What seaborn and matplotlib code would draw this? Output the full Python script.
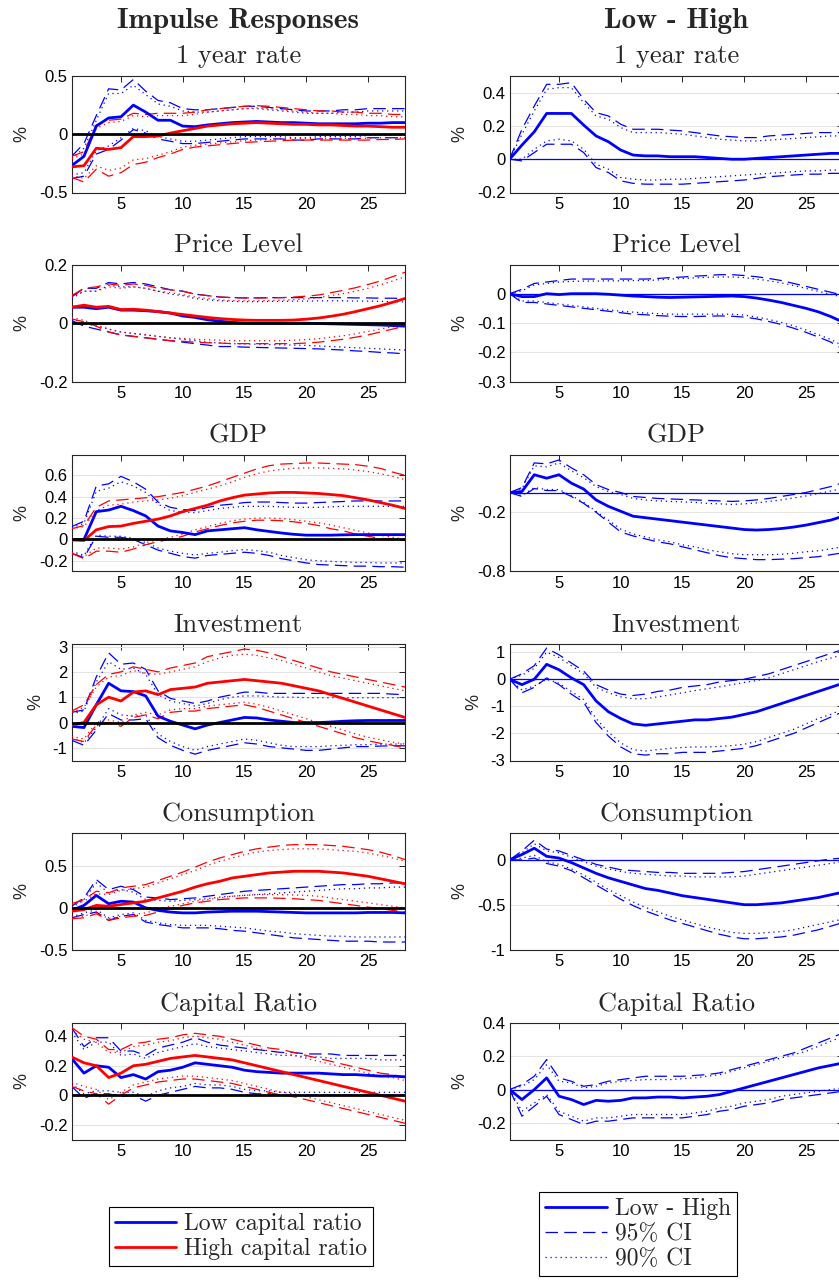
import numpy as np
import pandas as pd
import matplotlib
matplotlib.use("Agg")
import matplotlib.pyplot as plt
import seaborn as sns

# ---------------- data: horizons 1..28 ----------------
horizon = list(range(1, 29))

# 1 year rate
rate_low = [-0.27, -0.19, 0.07, 0.14, 0.15, 0.25, 0.19, 0.12, 0.12, 0.07, 0.065, 0.08, 0.09, 0.10, 0.105, 0.11, 0.105, 0.10, 0.10, 0.095, 0.09, 0.09, 0.09, 0.09, 0.095, 0.095, 0.10, 0.10]
rate_low_u95 = [-0.19, -0.08, 0.16, 0.39, 0.38, 0.47, 0.37, 0.29, 0.27, 0.22, 0.21, 0.21, 0.22, 0.23, 0.24, 0.24, 0.23, 0.22, 0.21, 0.20, 0.20, 0.20, 0.21, 0.21, 0.22, 0.22, 0.22, 0.22]
rate_low_u90 = [-0.21, -0.12, 0.12, 0.35, 0.35, 0.42, 0.34, 0.26, 0.24, 0.20, 0.19, 0.19, 0.20, 0.21, 0.22, 0.22, 0.21, 0.20, 0.19, 0.18, 0.18, 0.18, 0.19, 0.19, 0.20, 0.20, 0.20, 0.20]
rate_low_l95 = [-0.38, -0.36, -0.17, -0.13, -0.05, 0.04, 0.01, -0.04, -0.06, -0.08, -0.08, -0.07, -0.06, -0.05, -0.04, -0.04, -0.04, -0.04, -0.05, -0.05, -0.04, -0.04, -0.04, -0.04, -0.03, -0.03, -0.03, -0.03]
rate_low_l90 = [-0.35, -0.33, -0.14, -0.10, -0.03, 0.05, 0.03, -0.02, -0.04, -0.06, -0.06, -0.05, -0.04, -0.03, -0.02, -0.02, -0.02, -0.02, -0.03, -0.03, -0.02, -0.02, -0.02, -0.02, -0.01, -0.01, -0.01, -0.01]
rate_high = [-0.28, -0.27, -0.12, -0.13, -0.115, -0.02, -0.02, -0.015, 0.01, 0.03, 0.05, 0.07, 0.08, 0.09, 0.095, 0.10, 0.095, 0.09, 0.085, 0.085, 0.08, 0.08, 0.075, 0.07, 0.07, 0.065, 0.06, 0.06]
rate_high_u95 = [-0.19, -0.15, 0.08, 0.12, 0.13, 0.18, 0.17, 0.18, 0.18, 0.18, 0.19, 0.21, 0.22, 0.23, 0.24, 0.245, 0.24, 0.23, 0.22, 0.21, 0.20, 0.20, 0.19, 0.19, 0.18, 0.18, 0.17, 0.17]
rate_high_u90 = [-0.21, -0.17, 0.05, 0.10, 0.11, 0.16, 0.15, 0.16, 0.16, 0.16, 0.17, 0.19, 0.20, 0.21, 0.22, 0.225, 0.22, 0.21, 0.20, 0.19, 0.18, 0.18, 0.17, 0.17, 0.16, 0.16, 0.15, 0.15]
rate_high_l95 = [-0.37, -0.41, -0.30, -0.36, -0.33, -0.26, -0.24, -0.20, -0.17, -0.13, -0.11, -0.10, -0.09, -0.08, -0.07, -0.065, -0.06, -0.055, -0.05, -0.05, -0.05, -0.05, -0.05, -0.05, -0.05, -0.045, -0.045, -0.04]
rate_high_l90 = [-0.35, -0.38, -0.27, -0.31, -0.29, -0.22, -0.21, -0.18, -0.15, -0.11, -0.095, -0.085, -0.075, -0.065, -0.055, -0.05, -0.045, -0.04, -0.035, -0.035, -0.035, -0.035, -0.035, -0.035, -0.035, -0.03, -0.03, -0.03]
rate_diff = [0, 0.085, 0.165, 0.275, 0.275, 0.275, 0.205, 0.14, 0.105, 0.055, 0.025, 0.02, 0.02, 0.015, 0.015, 0.015, 0.01, 0.005, 0.0, 0.0, 0.005, 0.01, 0.015, 0.02, 0.025, 0.03, 0.035, 0.035]
rate_diff_u95 = [0, 0.18, 0.32, 0.45, 0.45, 0.46, 0.36, 0.28, 0.26, 0.21, 0.18, 0.18, 0.18, 0.175, 0.17, 0.16, 0.15, 0.14, 0.135, 0.13, 0.13, 0.14, 0.145, 0.15, 0.155, 0.16, 0.16, 0.16]
rate_diff_u90 = [0, 0.15, 0.29, 0.42, 0.43, 0.43, 0.34, 0.26, 0.24, 0.19, 0.16, 0.16, 0.16, 0.155, 0.15, 0.14, 0.13, 0.12, 0.115, 0.11, 0.11, 0.115, 0.12, 0.125, 0.13, 0.135, 0.14, 0.14]
rate_diff_l95 = [0, -0.01, 0.04, 0.09, 0.09, 0.09, 0.04, -0.05, -0.08, -0.13, -0.145, -0.15, -0.15, -0.15, -0.15, -0.145, -0.14, -0.135, -0.13, -0.125, -0.115, -0.105, -0.10, -0.095, -0.09, -0.09, -0.085, -0.085]
rate_diff_l90 = [0, 0.0, 0.06, 0.11, 0.12, 0.11, 0.06, -0.03, -0.06, -0.11, -0.12, -0.125, -0.125, -0.12, -0.12, -0.115, -0.11, -0.105, -0.10, -0.095, -0.09, -0.085, -0.08, -0.075, -0.07, -0.07, -0.065, -0.065]

# Price level
price_low = [0.055, 0.055, 0.05, 0.055, 0.045, 0.045, 0.043, 0.04, 0.035, 0.025, 0.02, 0.012, 0.007, 0.003, 0.001, 0.0, 0.0, 0.0, 0.0, 0.0, -0.001, -0.002, -0.003, -0.004, -0.005, -0.006, -0.008, -0.01]
price_low_u95 = [0.09, 0.12, 0.12, 0.14, 0.135, 0.14, 0.135, 0.125, 0.115, 0.11, 0.10, 0.095, 0.09, 0.088, 0.087, 0.087, 0.088, 0.088, 0.088, 0.088, 0.088, 0.088, 0.088, 0.087, 0.087, 0.086, 0.086, 0.085]
price_low_u90 = [0.085, 0.11, 0.11, 0.13, 0.125, 0.125, 0.12, 0.11, 0.10, 0.095, 0.085, 0.08, 0.077, 0.075, 0.074, 0.074, 0.075, 0.075, 0.076, 0.076, 0.077, 0.077, 0.077, 0.076, 0.076, 0.075, 0.074, 0.073]
price_low_l95 = [0.01, -0.01, -0.02, -0.03, -0.04, -0.045, -0.05, -0.055, -0.06, -0.065, -0.07, -0.075, -0.08, -0.08, -0.082, -0.083, -0.084, -0.085, -0.086, -0.087, -0.088, -0.09, -0.092, -0.095, -0.097, -0.10, -0.102, -0.105]
price_low_l90 = [0.015, 0.0, -0.01, -0.02, -0.03, -0.035, -0.04, -0.045, -0.05, -0.055, -0.06, -0.065, -0.068, -0.07, -0.071, -0.072, -0.073, -0.074, -0.075, -0.076, -0.078, -0.08, -0.082, -0.084, -0.086, -0.088, -0.09, -0.092]
price_high = [0.055, 0.062, 0.055, 0.058, 0.047, 0.048, 0.045, 0.04, 0.035, 0.03, 0.025, 0.02, 0.016, 0.013, 0.011, 0.01, 0.01, 0.01, 0.011, 0.014, 0.018, 0.024, 0.031, 0.04, 0.05, 0.06, 0.072, 0.085]
price_high_u95 = [0.095, 0.12, 0.125, 0.135, 0.13, 0.135, 0.13, 0.12, 0.115, 0.11, 0.10, 0.095, 0.09, 0.088, 0.087, 0.087, 0.087, 0.088, 0.09, 0.093, 0.097, 0.105, 0.113, 0.122, 0.133, 0.145, 0.16, 0.175]
price_high_u90 = [0.09, 0.11, 0.11, 0.125, 0.12, 0.125, 0.12, 0.11, 0.105, 0.098, 0.09, 0.085, 0.08, 0.078, 0.077, 0.077, 0.078, 0.079, 0.081, 0.084, 0.088, 0.095, 0.102, 0.11, 0.12, 0.132, 0.145, 0.16]
price_high_l95 = [0.015, 0.005, -0.01, -0.03, -0.04, -0.045, -0.05, -0.055, -0.06, -0.062, -0.065, -0.067, -0.068, -0.07, -0.07, -0.07, -0.07, -0.07, -0.07, -0.068, -0.065, -0.06, -0.055, -0.048, -0.04, -0.03, -0.02, -0.01]
price_high_l90 = [0.02, 0.01, -0.005, -0.02, -0.03, -0.035, -0.04, -0.045, -0.05, -0.052, -0.055, -0.057, -0.058, -0.06, -0.06, -0.06, -0.06, -0.06, -0.058, -0.056, -0.053, -0.048, -0.043, -0.036, -0.028, -0.02, -0.012, -0.005]
price_diff = [0, -0.01, -0.01, 0.0, -0.003, 0.0, 0.0, 0.0, -0.002, -0.005, -0.008, -0.01, -0.012, -0.013, -0.012, -0.011, -0.01, -0.009, -0.008, -0.01, -0.015, -0.022, -0.03, -0.04, -0.05, -0.062, -0.078, -0.097]
price_diff_u95 = [0, 0.015, 0.035, 0.04, 0.045, 0.05, 0.05, 0.05, 0.05, 0.05, 0.05, 0.05, 0.052, 0.055, 0.057, 0.06, 0.062, 0.065, 0.065, 0.062, 0.058, 0.052, 0.045, 0.035, 0.025, 0.015, 0.005, -0.005]
price_diff_u90 = [0, 0.01, 0.03, 0.035, 0.04, 0.042, 0.043, 0.043, 0.044, 0.044, 0.045, 0.045, 0.047, 0.05, 0.052, 0.054, 0.056, 0.057, 0.057, 0.055, 0.05, 0.044, 0.037, 0.028, 0.018, 0.008, -0.002, -0.012]
price_diff_l95 = [0, -0.03, -0.03, -0.035, -0.04, -0.045, -0.05, -0.055, -0.06, -0.065, -0.07, -0.072, -0.075, -0.077, -0.078, -0.078, -0.077, -0.076, -0.077, -0.08, -0.086, -0.095, -0.105, -0.118, -0.132, -0.148, -0.165, -0.19]
price_diff_l90 = [0, -0.025, -0.025, -0.03, -0.035, -0.04, -0.045, -0.05, -0.055, -0.06, -0.063, -0.066, -0.068, -0.07, -0.07, -0.07, -0.07, -0.07, -0.07, -0.073, -0.08, -0.088, -0.098, -0.11, -0.124, -0.14, -0.156, -0.178]

# GDP
gdp_low = [0, 0, 0.26, 0.275, 0.31, 0.27, 0.22, 0.125, 0.08, 0.065, 0.045, 0.08, 0.09, 0.10, 0.11, 0.09, 0.075, 0.06, 0.048, 0.04, 0.04, 0.04, 0.043, 0.045, 0.045, 0.045, 0.045, 0.045]
gdp_low_u95 = [0.12, 0.17, 0.5, 0.52, 0.59, 0.54, 0.47, 0.35, 0.3, 0.28, 0.27, 0.3, 0.32, 0.33, 0.345, 0.35, 0.35, 0.345, 0.34, 0.34, 0.345, 0.35, 0.355, 0.36, 0.36, 0.36, 0.36, 0.36]
gdp_low_u90 = [0.11, 0.15, 0.45, 0.48, 0.54, 0.5, 0.44, 0.33, 0.27, 0.255, 0.25, 0.27, 0.29, 0.3, 0.31, 0.31, 0.31, 0.305, 0.3, 0.3, 0.3, 0.305, 0.31, 0.31, 0.31, 0.31, 0.31, 0.31]
gdp_low_l95 = [-0.13, -0.17, 0.03, 0.02, 0.02, 0.0, -0.05, -0.1, -0.13, -0.16, -0.175, -0.15, -0.14, -0.13, -0.12, -0.13, -0.15, -0.18, -0.2, -0.22, -0.235, -0.24, -0.245, -0.25, -0.25, -0.255, -0.255, -0.26]
gdp_low_l90 = [-0.11, -0.15, 0.04, 0.03, 0.03, 0.01, -0.03, -0.08, -0.11, -0.13, -0.145, -0.13, -0.12, -0.105, -0.095, -0.105, -0.12, -0.15, -0.17, -0.19, -0.2, -0.205, -0.21, -0.215, -0.215, -0.22, -0.22, -0.22]
gdp_high = [-0.005, -0.01, 0.09, 0.12, 0.125, 0.15, 0.17, 0.19, 0.22, 0.26, 0.29, 0.32, 0.36, 0.39, 0.415, 0.425, 0.435, 0.44, 0.44, 0.435, 0.43, 0.42, 0.41, 0.39, 0.37, 0.345, 0.32, 0.29]
gdp_high_u95 = [0.1, 0.13, 0.3, 0.36, 0.37, 0.38, 0.39, 0.4, 0.42, 0.44, 0.47, 0.5, 0.54, 0.58, 0.62, 0.66, 0.69, 0.705, 0.71, 0.715, 0.715, 0.71, 0.705, 0.7, 0.685, 0.665, 0.63, 0.6]
gdp_high_u90 = [0.1, 0.12, 0.27, 0.32, 0.33, 0.35, 0.36, 0.37, 0.385, 0.41, 0.44, 0.47, 0.5, 0.54, 0.58, 0.615, 0.64, 0.655, 0.665, 0.67, 0.67, 0.665, 0.66, 0.65, 0.635, 0.615, 0.59, 0.56]
gdp_high_l95 = [-0.13, -0.18, -0.11, -0.11, -0.12, -0.09, -0.05, -0.02, 0.0, 0.03, 0.07, 0.1, 0.13, 0.155, 0.17, 0.18, 0.18, 0.175, 0.165, 0.15, 0.13, 0.1, 0.08, 0.05, 0.03, 0.01, 0.0, -0.01]
gdp_high_l90 = [-0.12, -0.16, -0.08, -0.08, -0.09, -0.07, -0.03, 0.0, 0.02, 0.05, 0.09, 0.12, 0.15, 0.175, 0.19, 0.2, 0.2, 0.195, 0.185, 0.17, 0.155, 0.135, 0.11, 0.085, 0.06, 0.04, 0.02, 0.0]
gdp_diff = [0, 0.01, 0.18, 0.145, 0.18, 0.095, 0.035, -0.075, -0.14, -0.19, -0.24, -0.255, -0.27, -0.285, -0.30, -0.315, -0.33, -0.345, -0.36, -0.375, -0.38, -0.375, -0.365, -0.35, -0.33, -0.305, -0.28, -0.24]
gdp_diff_u95 = [0, 0.05, 0.3, 0.29, 0.33, 0.25, 0.18, 0.08, 0.03, 0.0, -0.04, -0.05, -0.06, -0.065, -0.07, -0.075, -0.08, -0.085, -0.09, -0.085, -0.075, -0.06, -0.04, -0.02, 0.0, 0.03, 0.06, 0.1]
gdp_diff_u90 = [0, 0.04, 0.27, 0.26, 0.3, 0.22, 0.15, 0.06, 0.01, -0.02, -0.06, -0.075, -0.085, -0.09, -0.095, -0.1, -0.11, -0.115, -0.12, -0.115, -0.105, -0.09, -0.075, -0.055, -0.035, -0.01, 0.015, 0.04]
gdp_diff_l95 = [0, -0.04, 0.04, 0.02, 0.02, -0.04, -0.11, -0.2, -0.3, -0.4, -0.44, -0.47, -0.5, -0.52, -0.55, -0.58, -0.61, -0.64, -0.66, -0.67, -0.68, -0.68, -0.675, -0.67, -0.66, -0.65, -0.63, -0.61]
gdp_diff_l90 = [0, -0.03, 0.05, 0.03, 0.03, -0.03, -0.1, -0.19, -0.28, -0.37, -0.42, -0.45, -0.48, -0.5, -0.53, -0.55, -0.58, -0.6, -0.62, -0.63, -0.63, -0.63, -0.625, -0.615, -0.6, -0.59, -0.57, -0.55]

# Investment
inv_low = [-0.15, -0.2, 0.7, 1.55, 1.25, 1.22, 1.05, 0.25, 0.05, -0.1, -0.25, -0.1, 0.0, 0.1, 0.2, 0.18, 0.1, 0.05, 0.0, 0.0, 0.0, 0.02, 0.05, 0.07, 0.08, 0.08, 0.08, 0.08]
inv_low_u95 = [0.4, 0.5, 1.8, 2.75, 2.3, 2.35, 2.1, 1.25, 0.95, 0.85, 0.75, 0.85, 1.0, 1.1, 1.2, 1.2, 1.15, 1.15, 1.15, 1.15, 1.15, 1.15, 1.15, 1.15, 1.15, 1.15, 1.12, 1.1]
inv_low_u90 = [0.35, 0.45, 1.6, 2.4, 2.1, 2.15, 1.9, 1.1, 0.85, 0.75, 0.65, 0.75, 0.9, 1.0, 1.05, 1.05, 1.03, 1.0, 1.0, 0.98, 0.98, 0.98, 0.98, 0.98, 0.98, 0.98, 0.98, 0.98]
inv_low_l95 = [-0.7, -0.9, -0.3, 0.35, 0.1, 0.1, 0.15, -0.6, -0.9, -1.1, -1.25, -1.1, -1.0, -0.9, -0.8, -0.85, -0.95, -1.0, -1.05, -1.1, -1.1, -1.05, -1.0, -0.95, -0.95, -0.93, -0.92, -0.92]
inv_low_l90 = [-0.6, -0.8, -0.2, 0.55, 0.3, 0.25, 0.3, -0.45, -0.75, -0.95, -1.1, -0.95, -0.85, -0.75, -0.65, -0.7, -0.8, -0.9, -0.95, -0.95, -0.95, -0.92, -0.9, -0.88, -0.87, -0.86, -0.85, -0.85]
inv_high = [-0.1, 0.0, 0.7, 1.0, 0.85, 1.2, 1.25, 1.1, 1.3, 1.35, 1.4, 1.55, 1.6, 1.65, 1.7, 1.65, 1.6, 1.55, 1.45, 1.35, 1.25, 1.1, 0.95, 0.8, 0.65, 0.5, 0.35, 0.2]
inv_high_u95 = [0.45, 0.7, 1.5, 1.9, 2.0, 2.2, 2.1, 2.0, 2.15, 2.25, 2.35, 2.6, 2.7, 2.8, 2.9, 2.85, 2.75, 2.6, 2.45, 2.3, 2.15, 2.0, 1.9, 1.8, 1.7, 1.6, 1.5, 1.4]
inv_high_u90 = [0.4, 0.6, 1.4, 1.8, 1.85, 2.05, 1.95, 1.9, 2.0, 2.1, 2.2, 2.4, 2.55, 2.65, 2.7, 2.65, 2.55, 2.45, 2.3, 2.15, 2.0, 1.85, 1.75, 1.65, 1.55, 1.45, 1.35, 1.25]
inv_high_l95 = [-0.65, -0.75, -0.1, 0.0, -0.15, 0.2, 0.3, 0.15, 0.4, 0.45, 0.45, 0.55, 0.6, 0.65, 0.7, 0.6, 0.45, 0.3, 0.15, 0.0, -0.15, -0.3, -0.45, -0.6, -0.72, -0.82, -0.9, -1.0]
inv_high_l90 = [-0.55, -0.65, 0.0, 0.1, 0.0, 0.3, 0.4, 0.3, 0.5, 0.55, 0.55, 0.65, 0.7, 0.75, 0.8, 0.72, 0.6, 0.45, 0.3, 0.15, 0.0, -0.15, -0.3, -0.45, -0.58, -0.68, -0.78, -0.85]
inv_diff = [0, -0.2, 0.0, 0.55, 0.35, 0.05, -0.2, -0.8, -1.2, -1.45, -1.65, -1.7, -1.65, -1.6, -1.55, -1.5, -1.5, -1.45, -1.4, -1.3, -1.2, -1.05, -0.9, -0.75, -0.6, -0.45, -0.3, -0.15]
inv_diff_u95 = [0, 0.2, 0.5, 1.15, 0.9, 0.6, 0.3, -0.2, -0.4, -0.55, -0.6, -0.55, -0.45, -0.4, -0.3, -0.25, -0.2, -0.1, -0.05, 0.0, 0.1, 0.2, 0.35, 0.5, 0.65, 0.8, 0.95, 1.1]
inv_diff_u90 = [0, 0.15, 0.4, 1.0, 0.8, 0.5, 0.2, -0.3, -0.5, -0.65, -0.72, -0.72, -0.65, -0.58, -0.5, -0.42, -0.35, -0.28, -0.2, -0.12, -0.05, 0.05, 0.2, 0.35, 0.5, 0.65, 0.78, 0.9]
inv_diff_l95 = [0, -0.5, -0.3, 0.05, -0.2, -0.55, -0.85, -1.6, -2.1, -2.5, -2.75, -2.8, -2.75, -2.75, -2.7, -2.7, -2.7, -2.65, -2.6, -2.55, -2.45, -2.3, -2.15, -2.0, -1.8, -1.6, -1.4, -1.2]
inv_diff_l90 = [0, -0.4, -0.25, 0.0, -0.15, -0.45, -0.75, -1.45, -1.95, -2.35, -2.6, -2.65, -2.6, -2.55, -2.52, -2.5, -2.5, -2.48, -2.45, -2.4, -2.3, -2.15, -2.0, -1.85, -1.65, -1.45, -1.3, -1.1]

# Consumption
cons_low = [-0.03, 0.03, 0.15, 0.05, 0.08, 0.07, 0.0, -0.03, -0.05, -0.06, -0.06, -0.05, -0.045, -0.04, -0.04, -0.04, -0.045, -0.05, -0.055, -0.06, -0.06, -0.06, -0.06, -0.06, -0.055, -0.055, -0.055, -0.06]
cons_low_u95 = [0.02, 0.12, 0.34, 0.22, 0.26, 0.22, 0.13, 0.12, 0.1, 0.11, 0.12, 0.14, 0.16, 0.18, 0.2, 0.21, 0.22, 0.23, 0.24, 0.25, 0.26, 0.27, 0.28, 0.28, 0.29, 0.29, 0.3, 0.3]
cons_low_u90 = [0.0, 0.1, 0.3, 0.18, 0.22, 0.19, 0.1, 0.09, 0.08, 0.09, 0.1, 0.11, 0.13, 0.14, 0.15, 0.16, 0.17, 0.18, 0.19, 0.2, 0.21, 0.22, 0.23, 0.23, 0.24, 0.24, 0.25, 0.25]
cons_low_l95 = [-0.12, -0.08, -0.05, -0.15, -0.1, -0.08, -0.17, -0.2, -0.22, -0.24, -0.24, -0.24, -0.25, -0.27, -0.28, -0.3, -0.32, -0.34, -0.36, -0.37, -0.38, -0.39, -0.4, -0.4, -0.4, -0.41, -0.41, -0.41]
cons_low_l90 = [-0.11, -0.06, -0.02, -0.12, -0.08, -0.06, -0.15, -0.18, -0.2, -0.21, -0.21, -0.21, -0.22, -0.23, -0.24, -0.26, -0.28, -0.29, -0.31, -0.32, -0.33, -0.34, -0.34, -0.35, -0.35, -0.35, -0.35, -0.35]
cons_high = [-0.04, -0.02, 0.03, 0.02, 0.04, 0.06, 0.08, 0.12, 0.16, 0.2, 0.25, 0.29, 0.32, 0.36, 0.38, 0.4, 0.42, 0.43, 0.44, 0.44, 0.44, 0.43, 0.42, 0.4, 0.38, 0.35, 0.32, 0.29]
cons_high_u95 = [0.05, 0.1, 0.2, 0.18, 0.24, 0.26, 0.28, 0.33, 0.38, 0.43, 0.49, 0.55, 0.6, 0.64, 0.68, 0.71, 0.73, 0.75, 0.76, 0.76, 0.76, 0.75, 0.74, 0.72, 0.7, 0.67, 0.63, 0.58]
cons_high_u90 = [0.04, 0.08, 0.17, 0.16, 0.21, 0.23, 0.25, 0.3, 0.35, 0.4, 0.45, 0.51, 0.56, 0.6, 0.64, 0.67, 0.69, 0.7, 0.71, 0.71, 0.71, 0.7, 0.69, 0.68, 0.66, 0.63, 0.6, 0.56]
cons_high_l95 = [-0.13, -0.12, -0.07, -0.15, -0.12, -0.1, -0.09, -0.05, -0.01, 0.03, 0.06, 0.08, 0.1, 0.11, 0.12, 0.12, 0.12, 0.115, 0.11, 0.1, 0.09, 0.07, 0.05, 0.03, 0.01, -0.01, -0.03, -0.05]
cons_high_l90 = [-0.11, -0.1, -0.05, -0.13, -0.1, -0.08, -0.06, -0.02, 0.02, 0.05, 0.08, 0.1, 0.12, 0.14, 0.15, 0.16, 0.16, 0.16, 0.155, 0.15, 0.14, 0.12, 0.1, 0.08, 0.06, 0.04, 0.02, 0.0]
cons_diff = [0, 0.06, 0.13, 0.04, 0.02, -0.03, -0.09, -0.15, -0.2, -0.24, -0.28, -0.32, -0.34, -0.37, -0.4, -0.42, -0.44, -0.46, -0.48, -0.5, -0.5, -0.49, -0.48, -0.46, -0.44, -0.42, -0.39, -0.36]
cons_diff_u95 = [0, 0.1, 0.22, 0.12, 0.1, 0.05, 0.0, -0.05, -0.08, -0.11, -0.12, -0.13, -0.14, -0.14, -0.15, -0.15, -0.15, -0.15, -0.14, -0.13, -0.11, -0.09, -0.07, -0.05, -0.03, -0.01, 0.01, 0.02]
cons_diff_u90 = [0, 0.08, 0.18, 0.1, 0.08, 0.03, -0.02, -0.07, -0.1, -0.13, -0.15, -0.16, -0.17, -0.18, -0.18, -0.19, -0.19, -0.19, -0.19, -0.18, -0.16, -0.14, -0.12, -0.1, -0.08, -0.06, -0.04, -0.02]
cons_diff_l95 = [0, 0.0, 0.02, -0.04, -0.07, -0.12, -0.2, -0.28, -0.36, -0.44, -0.51, -0.57, -0.62, -0.67, -0.71, -0.75, -0.79, -0.83, -0.86, -0.88, -0.88, -0.87, -0.86, -0.84, -0.81, -0.78, -0.74, -0.7]
cons_diff_l90 = [0, 0.02, 0.05, -0.02, -0.05, -0.1, -0.17, -0.25, -0.33, -0.4, -0.47, -0.53, -0.58, -0.63, -0.67, -0.71, -0.75, -0.78, -0.81, -0.82, -0.82, -0.81, -0.8, -0.78, -0.75, -0.72, -0.69, -0.66]

# Capital ratio
cap_low = [0.25, 0.15, 0.2, 0.19, 0.12, 0.14, 0.11, 0.16, 0.17, 0.19, 0.22, 0.21, 0.2, 0.19, 0.17, 0.16, 0.155, 0.15, 0.15, 0.15, 0.15, 0.145, 0.14, 0.14, 0.135, 0.13, 0.13, 0.125]
cap_low_u95 = [0.46, 0.33, 0.39, 0.39, 0.3, 0.3, 0.27, 0.32, 0.34, 0.36, 0.39, 0.36, 0.34, 0.33, 0.32, 0.31, 0.3, 0.29, 0.29, 0.28, 0.28, 0.28, 0.27, 0.27, 0.27, 0.27, 0.27, 0.27]
cap_low_u90 = [0.43, 0.31, 0.36, 0.36, 0.27, 0.28, 0.25, 0.29, 0.31, 0.33, 0.35, 0.33, 0.32, 0.31, 0.3, 0.29, 0.28, 0.27, 0.27, 0.26, 0.26, 0.25, 0.25, 0.25, 0.25, 0.24, 0.24, 0.24]
cap_low_l95 = [0.06, -0.02, 0.01, 0.01, -0.01, 0.0, -0.04, 0.0, 0.02, 0.04, 0.06, 0.05, 0.05, 0.04, 0.02, 0.01, 0.01, 0.0, 0.0, 0.0, 0.0, 0.0, 0.0, 0.0, 0.0, 0.0, 0.0, 0.0]
cap_low_l90 = [0.08, 0.01, 0.03, 0.03, 0.02, 0.02, -0.01, 0.03, 0.05, 0.06, 0.08, 0.07, 0.07, 0.06, 0.04, 0.03, 0.03, 0.02, 0.02, 0.02, 0.02, 0.02, 0.02, 0.02, 0.02, 0.02, 0.02, 0.02]
cap_high = [0.26, 0.22, 0.2, 0.12, 0.15, 0.2, 0.21, 0.23, 0.25, 0.26, 0.27, 0.26, 0.25, 0.24, 0.22, 0.2, 0.18, 0.16, 0.14, 0.12, 0.1, 0.08, 0.06, 0.04, 0.02, 0.0, -0.02, -0.04]
cap_high_u95 = [0.46, 0.4, 0.38, 0.31, 0.31, 0.35, 0.36, 0.38, 0.39, 0.41, 0.42, 0.41, 0.4, 0.38, 0.36, 0.34, 0.32, 0.31, 0.29, 0.27, 0.25, 0.23, 0.21, 0.19, 0.17, 0.15, 0.14, 0.12]
cap_high_u90 = [0.44, 0.38, 0.36, 0.29, 0.29, 0.33, 0.34, 0.36, 0.37, 0.39, 0.4, 0.39, 0.38, 0.36, 0.34, 0.32, 0.3, 0.29, 0.27, 0.25, 0.23, 0.21, 0.19, 0.17, 0.15, 0.13, 0.12, 0.1]
cap_high_l95 = [0.06, 0.03, 0.01, -0.06, 0.0, 0.05, 0.07, 0.09, 0.1, 0.11, 0.11, 0.1, 0.09, 0.08, 0.06, 0.04, 0.02, 0.0, -0.01, -0.03, -0.05, -0.07, -0.09, -0.11, -0.13, -0.15, -0.17, -0.19]
cap_high_l90 = [0.09, 0.06, 0.04, -0.03, 0.02, 0.07, 0.09, 0.11, 0.12, 0.13, 0.13, 0.12, 0.11, 0.1, 0.08, 0.06, 0.04, 0.02, 0.01, -0.01, -0.03, -0.05, -0.07, -0.09, -0.11, -0.13, -0.15, -0.17]
cap_diff = [0, -0.06, 0.0, 0.07, -0.04, -0.06, -0.09, -0.065, -0.07, -0.065, -0.05, -0.05, -0.045, -0.045, -0.05, -0.045, -0.04, -0.03, -0.01, 0.01, 0.03, 0.05, 0.07, 0.09, 0.11, 0.13, 0.145, 0.16]
cap_diff_u95 = [0, 0.03, 0.08, 0.18, 0.07, 0.05, 0.02, 0.03, 0.05, 0.06, 0.07, 0.08, 0.08, 0.08, 0.08, 0.085, 0.09, 0.1, 0.12, 0.14, 0.16, 0.18, 0.2, 0.22, 0.25, 0.28, 0.31, 0.34]
cap_diff_u90 = [0, 0.02, 0.06, 0.15, 0.05, 0.04, 0.01, 0.02, 0.04, 0.05, 0.055, 0.06, 0.06, 0.06, 0.065, 0.07, 0.08, 0.09, 0.11, 0.13, 0.15, 0.17, 0.19, 0.21, 0.23, 0.26, 0.29, 0.32]
cap_diff_l95 = [0, -0.16, -0.1, -0.04, -0.15, -0.18, -0.21, -0.19, -0.19, -0.18, -0.17, -0.17, -0.17, -0.17, -0.17, -0.16, -0.15, -0.13, -0.12, -0.1, -0.09, -0.08, -0.06, -0.05, -0.04, -0.03, -0.02, -0.01]
cap_diff_l90 = [0, -0.13, -0.08, -0.03, -0.13, -0.16, -0.19, -0.17, -0.17, -0.16, -0.15, -0.15, -0.15, -0.15, -0.15, -0.14, -0.13, -0.11, -0.1, -0.08, -0.07, -0.06, -0.04, -0.03, -0.02, -0.01, 0.0, 0.01]

titles = ["1 year rate", "Price Level", "GDP", "Investment", "Consumption", "Capital Ratio"]
group_labels = ["Low capital ratio", "High capital ratio"]
ci_labels = ["Low - High", "95% CI", "90% CI"]

left_ylim = [(-0.5, 0.5), (-0.2, 0.2), (-0.3, 0.79), (-1.5, 3.1), (-0.5, 0.9), (-0.3, 0.49)]
left_yticks = [[-0.5, 0, 0.5], [-0.2, 0, 0.2], [-0.2, 0, 0.2, 0.4, 0.6], [-1, 0, 1, 2, 3],
               [-0.5, 0, 0.5], [-0.2, 0, 0.2, 0.4]]
right_ylim = [(-0.2, 0.5), (-0.3, 0.098), (-0.8, 0.38), (-3, 1.3), (-1, 0.3), (-0.3, 0.4)]
right_yticks = [[-0.2, 0, 0.2, 0.4], [-0.3, -0.2, -0.1, 0], [-0.8, -0.2], [-3, -2, -1, 0, 1],
                [-1, -0.5, 0], [-0.2, 0, 0.2, 0.4]]

left_sets = [
    (rate_low, rate_low_u95, rate_low_l95, rate_low_u90, rate_low_l90,
     rate_high, rate_high_u95, rate_high_l95, rate_high_u90, rate_high_l90),
    (price_low, price_low_u95, price_low_l95, price_low_u90, price_low_l90,
     price_high, price_high_u95, price_high_l95, price_high_u90, price_high_l90),
    (gdp_low, gdp_low_u95, gdp_low_l95, gdp_low_u90, gdp_low_l90,
     gdp_high, gdp_high_u95, gdp_high_l95, gdp_high_u90, gdp_high_l90),
    (inv_low, inv_low_u95, inv_low_l95, inv_low_u90, inv_low_l90,
     inv_high, inv_high_u95, inv_high_l95, inv_high_u90, inv_high_l90),
    (cons_low, cons_low_u95, cons_low_l95, cons_low_u90, cons_low_l90,
     cons_high, cons_high_u95, cons_high_l95, cons_high_u90, cons_high_l90),
    (cap_low, cap_low_u95, cap_low_l95, cap_low_u90, cap_low_l90,
     cap_high, cap_high_u95, cap_high_l95, cap_high_u90, cap_high_l90),
]
right_sets = [
    (rate_diff, rate_diff_u95, rate_diff_l95, rate_diff_u90, rate_diff_l90),
    (price_diff, price_diff_u95, price_diff_l95, price_diff_u90, price_diff_l90),
    (gdp_diff, gdp_diff_u95, gdp_diff_l95, gdp_diff_u90, gdp_diff_l90),
    (inv_diff, inv_diff_u95, inv_diff_l95, inv_diff_u90, inv_diff_l90),
    (cons_diff, cons_diff_u95, cons_diff_l95, cons_diff_u90, cons_diff_l90),
    (cap_diff, cap_diff_u95, cap_diff_l95, cap_diff_u90, cap_diff_l90),
]

# ---------------- style ----------------
sns.set_theme(style="white")
plt.rcParams["font.family"] = ["Liberation Sans", "DejaVu Sans"]
plt.rcParams["axes.unicode_minus"] = False

BLUE = "#0000ff"
RED = "#ff0000"
SERIF = "cmr10"
SERIF_BOLD = "cmb10"
DASH = (0, (10, 5))
DOT = (0, (1, 3))

W, H = 839, 1281
fig = plt.figure(figsize=(W / 100, H / 100), dpi=100)

ax_w = 333.4 / W
ax_h = 116.5 / H
row_tops = [76, 265, 455, 644, 833, 1023]
col_left = [71.6, 509.6]


def style_axis(ax, ylim, yticks):
    ax.set_xlim(1, 28)
    ax.set_xticks([5, 10, 15, 20, 25])
    ax.set_ylim(*ylim)
    ax.set_yticks(yticks)
    ax.set_yticklabels([f"{t:g}" for t in yticks])
    ax.tick_params(direction="in", top=True, right=True, length=4, width=0.7,
                   labelsize=12, colors="#262626", pad=3)
    ax.tick_params(axis="both", labelcolor="black")
    ax.yaxis.grid(True, color="#e3e3e3", lw=0.8)
    ax.xaxis.grid(False)
    ax.set_axisbelow(True)
    for s in ax.spines.values():
        s.set_color("#262626")
        s.set_linewidth(0.8)
    ax.set_xlabel("")
    ax.set_ylabel("%", fontsize=13, labelpad=6)


def draw(ax, y, color, kind):
    if kind == "mean":
        sns.lineplot(x=horizon, y=y, ax=ax, color=color, lw=2.0, zorder=4)
    elif kind == "95":
        sns.lineplot(x=horizon, y=y, ax=ax, color=color, lw=0.9, linestyle=DASH, zorder=3)
    else:
        sns.lineplot(x=horizon, y=y, ax=ax, color=color, lw=0.9, linestyle=DOT, zorder=3)


left_handles = []
right_handles = []
for r in range(6):
    y0 = 1 - (row_tops[r] + 116.5) / H
    # left column: low vs high capital ratio
    axl = fig.add_axes([col_left[0] / W, y0, ax_w, ax_h])
    s = left_sets[r]
    for color, block in ((BLUE, s[:5]), (RED, s[5:])):
        mean, u95, l95, u90, l90 = block
        draw(axl, u95, color, "95")
        draw(axl, l95, color, "95")
        draw(axl, u90, color, "90")
        draw(axl, l90, color, "90")
        draw(axl, mean, color, "mean")
        if r == 0:
            left_handles.append(axl.lines[-1])
    axl.axhline(0, color="black", lw=2.0, zorder=5)
    style_axis(axl, left_ylim[r], left_yticks[r])
    axl.set_title(titles[r], fontfamily=SERIF, fontsize=19, pad=9)

    # right column: difference low - high
    axr = fig.add_axes([col_left[1] / W, y0, ax_w, ax_h])
    mean, u95, l95, u90, l90 = right_sets[r]
    draw(axr, mean, BLUE, "mean")
    if r == 0:
        right_handles.append(axr.lines[-1])
    draw(axr, u95, BLUE, "95")
    if r == 0:
        right_handles.append(axr.lines[-1])
    draw(axr, l95, BLUE, "95")
    draw(axr, u90, BLUE, "90")
    if r == 0:
        right_handles.append(axr.lines[-1])
    draw(axr, l90, BLUE, "90")
    axr.axhline(0, color=BLUE, lw=0.9, zorder=2)
    style_axis(axr, right_ylim[r], right_yticks[r])
    axr.set_title(titles[r], fontfamily=SERIF, fontsize=19, pad=9)

# column headers
fig.text((col_left[0] + 333.4 / 2) / W, 1 - 21 / H, "Impulse Responses",
         fontfamily=SERIF_BOLD, fontsize=21, ha="center", va="center")
fig.text((col_left[1] + 333.4 / 2) / W, 1 - 21 / H, "Low - High",
         fontfamily=SERIF_BOLD, fontsize=21, ha="center", va="center")

leg_kw = dict(frameon=True, fancybox=False, edgecolor="black", framealpha=1,
              prop={"family": SERIF, "size": 17}, handlelength=2.6,
              handletextpad=0.35, borderpad=0.25, labelspacing=0.12,
              borderaxespad=0)
lg1 = fig.legend(left_handles, group_labels, loc="center",
                 bbox_to_anchor=(241 / W, 1 - 1236.5 / H), **leg_kw)
lg2 = fig.legend(right_handles, ci_labels, loc="center",
                 bbox_to_anchor=(638 / W, 1 - 1234 / H), **leg_kw)
for lg in (lg1, lg2):
    lg.get_frame().set_linewidth(0.8)

fig.savefig("out.png", dpi=100)
